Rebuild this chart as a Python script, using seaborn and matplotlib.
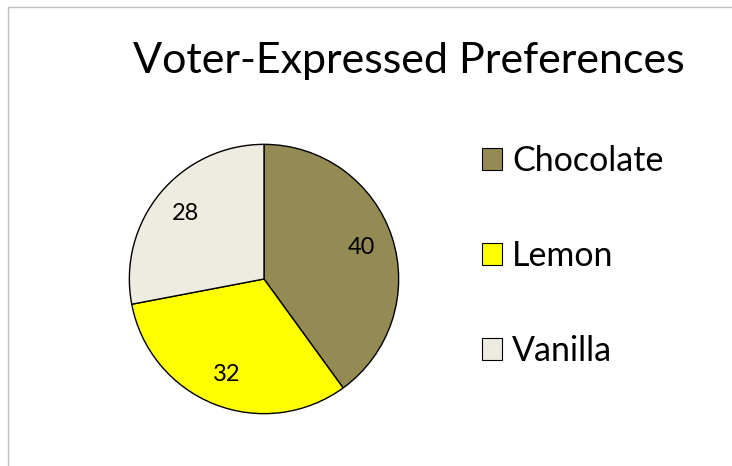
import matplotlib
matplotlib.use("Agg")
import matplotlib.pyplot as plt
import seaborn as sns
from matplotlib.patches import Rectangle, Patch

flavors = ["Chocolate", "Lemon", "Vanilla"]
votes = [40, 32, 28]
colors = ["#948A54", "#FFFF00", "#EEECE1"]

sns.set_theme(style="white")
plt.rcParams["font.family"] = ["Lato", "DejaVu Sans"]
plt.rcParams["text.color"] = "black"

W, H = 732, 466
fig = plt.figure(figsize=(W / 100, H / 100), dpi=100)

# chart border (only left and top visible in reference)
fig.patches.append(Rectangle((8 / W, -0.1), 1.2, 1.1 - 7 / H, transform=fig.transFigure,
                             fill=False, edgecolor="#BFBFBF", linewidth=1))

cx, cy, r = 264, 279, 136
ax = fig.add_axes([(cx - r) / W, (H - cy - r) / H, 2 * r / W, 2 * r / H])
ax.pie(votes, colors=colors, startangle=90, counterclock=False,
       autopct=lambda p: f"{p * sum(votes) / 100:.0f}", pctdistance=0.76,
       wedgeprops=dict(edgecolor="black", linewidth=1),
       textprops=dict(fontsize=17, color="black"))
ax.set_xlim(-1.01, 1.01)
ax.set_ylim(-1.01, 1.01)
ax.set_aspect("auto")

fig.text(409 / W, 1 - 61 / H, "Voter-Expressed Preferences", ha="center", va="center",
         fontsize=31, color="black")

handles = [Patch(facecolor=c, edgecolor="black", linewidth=0.8) for c in colors]
fig.legend(handles, flavors, loc="center left", bbox_to_anchor=(482 / W, 1 - 256 / H),
           frameon=False, fontsize=24.5, handlelength=0.6, handleheight=0.6,
           handletextpad=0.28, labelspacing=1.85, borderpad=0, borderaxespad=0)

fig.savefig("out.png", dpi=100)
